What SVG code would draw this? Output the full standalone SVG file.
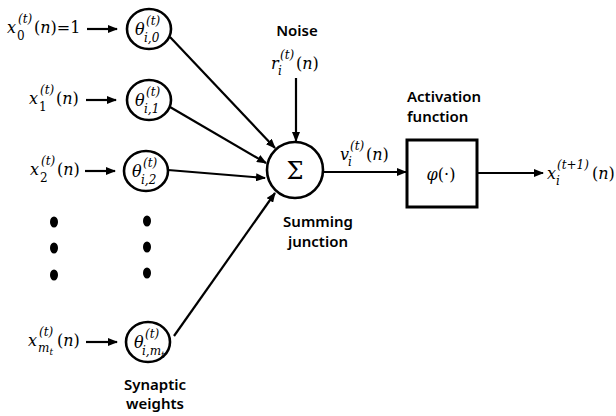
<svg xmlns="http://www.w3.org/2000/svg" width="616" height="416" viewBox="0 0 616 416">
<style>
.m{font-family:"DejaVu Serif",serif;font-size:16px;fill:#000}
.s{font-family:"DejaVu Serif",serif;font-size:12px;fill:#000}
.i{font-style:italic}
.lab{font-family:"Noto Sans","Liberation Sans",sans-serif;font-size:15px;font-weight:600;fill:#000}
.node{fill:#fff;stroke:#000;stroke-width:2.6}
.con line{stroke:#000;stroke-width:2.2;marker-end:url(#ah)}
.dot{fill:#000}
</style>
<defs>
<marker id="ah" markerUnits="userSpaceOnUse" markerWidth="10" markerHeight="8" refX="9" refY="4" orient="auto">
<path d="M0,0 L10,4 L0,8 Z" fill="#000"/>
</marker>
</defs>
<rect width="616" height="416" fill="#fff"/>

<g id="x0">
<text class="m i" x="7" y="33">x</text>
<text class="s i" x="18" y="23">(t)</text>
<text class="s" x="17" y="40">0</text>
<text class="m" x="34" y="33">(<tspan class="i">n</tspan>)=1</text>
</g>
<g id="x1">
<text class="m i" x="29" y="104">x</text>
<text class="s i" x="40" y="94">(t)</text>
<text class="s" x="39" y="111">1</text>
<text class="m" x="56" y="104">(<tspan class="i">n</tspan>)</text>
</g>
<g id="x2">
<text class="m i" x="30" y="175">x</text>
<text class="s i" x="41" y="165">(t)</text>
<text class="s" x="40" y="182">2</text>
<text class="m" x="57" y="175">(<tspan class="i">n</tspan>)</text>
</g>
<g id="xm">
<text class="m i" x="28" y="346">x</text>
<text class="s i" x="39" y="336">(t)</text>
<text class="s i" x="38" y="352">m<tspan font-size="9" dy="3">t</tspan></text>
<text class="m" x="57" y="346">(<tspan class="i">n</tspan>)</text>
</g>

<g id="dots-x">
<ellipse class="dot" cx="54" cy="222" rx="4" ry="5.5"/>
<ellipse class="dot" cx="54" cy="248" rx="4" ry="5.5"/>
<ellipse class="dot" cx="54" cy="275" rx="4" ry="5.5"/>
</g>
<g id="dots-theta">
<ellipse class="dot" cx="147" cy="221" rx="4" ry="5.5"/>
<ellipse class="dot" cx="147" cy="247" rx="4" ry="5.5"/>
<ellipse class="dot" cx="147" cy="273" rx="4" ry="5.5"/>
</g>

<g id="theta0">
<ellipse class="node" cx="149" cy="29" rx="22" ry="20"/>
<text class="m i" x="135" y="35" font-size="17">θ</text>
<text class="s i" x="146" y="25">(t)</text>
<text class="s i" x="144" y="42">i,0</text>
</g>
<g id="theta1">
<ellipse class="node" cx="149" cy="100" rx="22" ry="20"/>
<text class="m i" x="135" y="106" font-size="17">θ</text>
<text class="s i" x="146" y="96">(t)</text>
<text class="s i" x="144" y="113">i,1</text>
</g>
<g id="theta2">
<ellipse class="node" cx="146" cy="171" rx="22" ry="20"/>
<text class="m i" x="132" y="177" font-size="17">θ</text>
<text class="s i" x="143" y="167">(t)</text>
<text class="s i" x="141" y="184">i,2</text>
</g>
<g id="thetam">
<ellipse class="node" cx="148" cy="342" rx="22" ry="20"/>
<text class="m i" x="134" y="348" font-size="17">θ</text>
<text class="s i" x="145" y="338">(t)</text>
<text class="s i" x="142" y="355">i,m<tspan font-size="9" dy="3">t</tspan></text>
</g>

<g id="sum">
<circle class="node" cx="295" cy="170" r="28"/>
<text x="295" y="179" text-anchor="middle" font-family="DejaVu Serif,serif" font-size="24">Σ</text>
</g>

<g id="activation">
<rect x="407" y="140" width="70" height="67" fill="#fff" stroke="#000" stroke-width="3"/>
<text class="m" x="441" y="180" text-anchor="middle" font-size="18"><tspan class="i">φ</tspan>(·)</text>
</g>

<g id="noise">
<text class="m i" x="271" y="69">r</text>
<text class="s i" x="278" y="75">i</text>
<text class="s i" x="280" y="59">(t)</text>
<text class="m" x="296" y="69">(<tspan class="i">n</tspan>)</text>
</g>
<g id="v">
<text class="m i" x="340" y="160">v</text>
<text class="s i" x="348" y="166">i</text>
<text class="s i" x="350" y="150">(t)</text>
<text class="m" x="366" y="160">(<tspan class="i">n</tspan>)</text>
</g>
<g id="out">
<text class="m i" x="547" y="179">x</text>
<text class="s i" x="556" y="185">i</text>
<text class="s i" x="557" y="169">(t+1)</text>
<text class="m" x="592" y="179">(<tspan class="i">n</tspan>)</text>
</g>

<g id="labels">
<text class="lab" x="297" y="36" text-anchor="middle">Noise</text>
<text class="lab" x="407" y="102">Activation</text>
<text class="lab" x="407" y="122">function</text>
<text class="lab" x="318" y="227" text-anchor="middle">Summing</text>
<text class="lab" x="318" y="247" text-anchor="middle">junction</text>
<text class="lab" x="155" y="390" text-anchor="middle">Synaptic</text>
<text class="lab" x="155" y="409" text-anchor="middle">weights</text>
</g>

<g id="connectors" class="con">
<line x1="87" y1="29" x2="117" y2="29"/>
<line x1="86" y1="100" x2="116" y2="100"/>
<line x1="85" y1="171" x2="115" y2="171"/>
<line x1="86" y1="342" x2="117" y2="342"/>
<line x1="170" y1="37" x2="275" y2="148"/>
<line x1="170" y1="107" x2="266" y2="163"/>
<line x1="168" y1="170" x2="265" y2="178"/>
<line x1="174" y1="336" x2="275" y2="193"/>
<line x1="296" y1="78" x2="296" y2="141"/>
<line x1="323" y1="172" x2="406" y2="172"/>
<line x1="477" y1="173" x2="543" y2="173"/>
</g>
</svg>
